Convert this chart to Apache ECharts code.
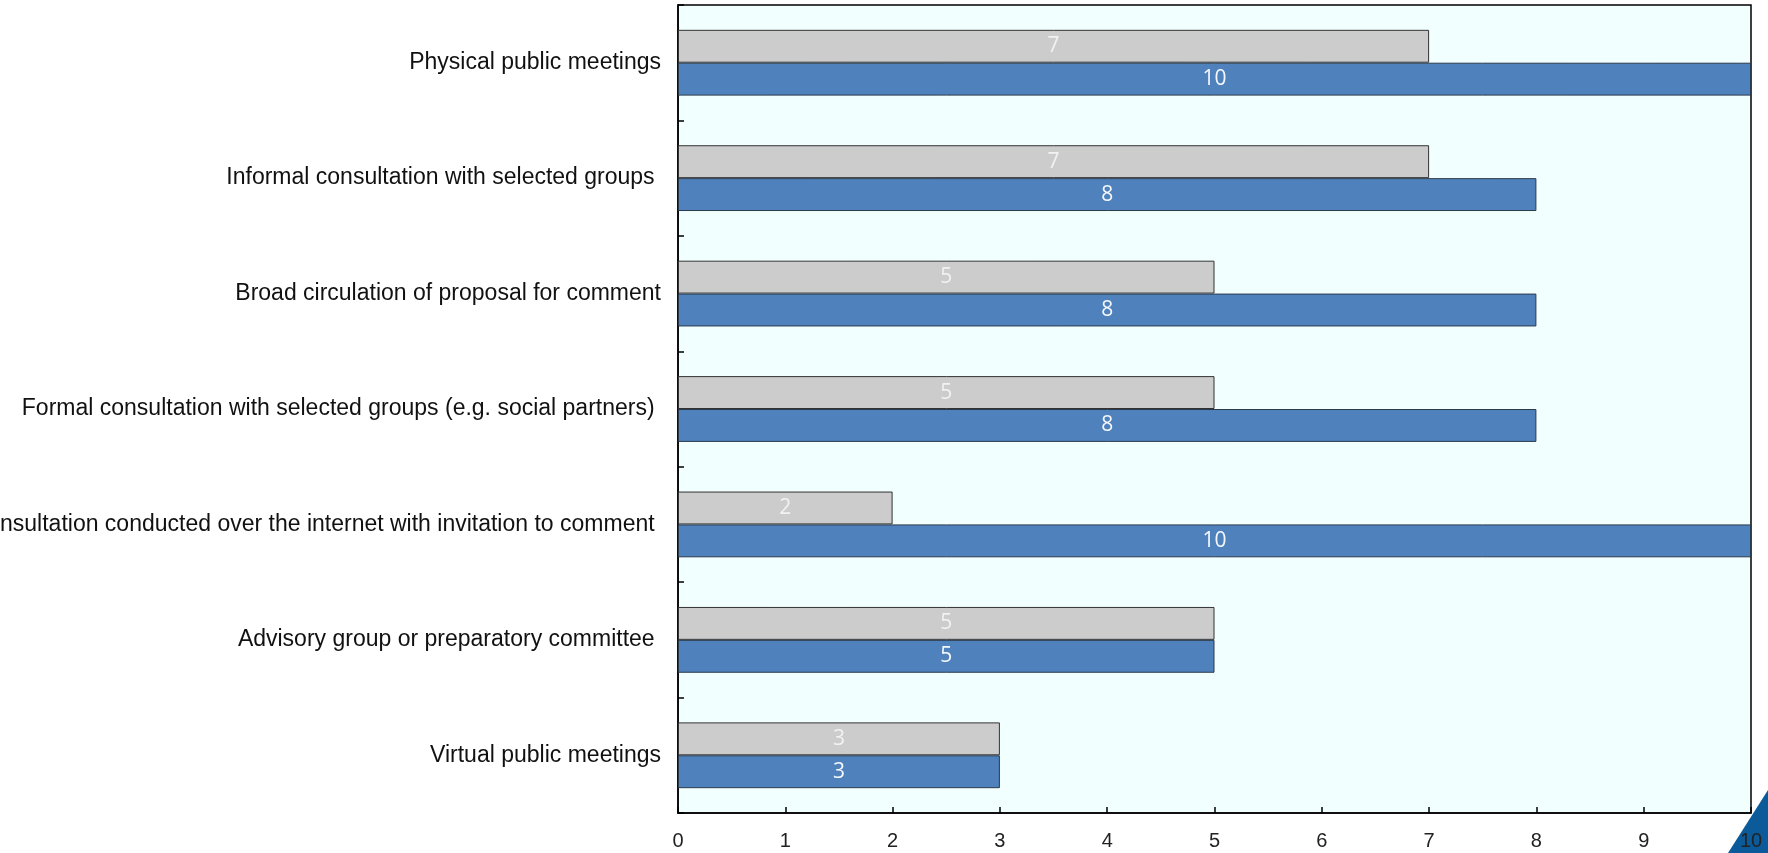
<!DOCTYPE html>
<html><head><meta charset="utf-8">
<script src="https://cdn.jsdelivr.net/npm/echarts@6/dist/echarts.min.js"></script>
<style>html,body{margin:0;padding:0;background:#fff}#c{width:1768px;height:853px}</style>
</head><body><div id="c"></div>
<script>
const categories = [
  "Physical public meetings",
  "Informal consultation with selected groups ",
  "Broad circulation of proposal for comment",
  "Formal consultation with selected groups (e.g. social partners) ",
  "Consultation conducted over the internet with invitation to comment ",
  "Advisory group or preparatory committee ",
  "Virtual public meetings"
];
const grayValues = [7, 7, 5, 5, 2, 5, 3];
const blueValues = [10, 8, 8, 8, 10, 5, 3];
const xTicks = [0,1,2,3,4,5,6,7,8,9,10];

const chart = echarts.init(document.getElementById('c'));
chart.setOption({
  animation: false,
  grid: {left: 678, right: 17, top: 5, bottom: 40, containLabel: false, outerBoundsMode: 'none',
         show: true, backgroundColor: '#f2ffff', borderColor: '#000', borderWidth: 1.5},
  xAxis: {
    type: 'value', min: xTicks[0], max: xTicks[xTicks.length-1], interval: 1,
    axisLine: {show: true, lineStyle: {color: '#000', width: 1.5}},
    axisTick: {show: true, inside: true, length: 6, lineStyle: {color: '#000', width: 1.5}},
    splitLine: {show: false},
    axisLabel: {color: '#222', fontSize: 20, fontFamily: 'Liberation Sans Narrow, Arial Narrow, Liberation Sans, Arial', margin: 18}
  },
  yAxis: {
    type: 'category', data: categories, inverse: true,
    axisLine: {show: true, lineStyle: {color: '#000', width: 1.5}},
    axisTick: {show: true, inside: true, length: 6, lineStyle: {color: '#000', width: 1.5}},
    axisLabel: {color: '#111', fontSize: 23, fontFamily: 'Liberation Sans Narrow, Arial Narrow, Liberation Sans, Arial', margin: 17}
  },
  series: [
    {type: 'bar', data: grayValues, barGap: '0%', barCategoryGap: '43%',
     itemStyle: {color: '#cccccc', borderColor: '#333', borderWidth: 1},
     label: {show: true, position: 'inside', color: '#f2f2f2', fontSize: 21, fontFamily: 'Open Sans, Noto Sans, sans-serif'}},
    {type: 'bar', data: blueValues, barGap: '0%', barCategoryGap: '43%',
     itemStyle: {color: '#4f81bd', borderColor: '#2a3a4a', borderWidth: 1},
     label: {show: true, position: 'inside', color: '#f4f8fc', fontSize: 21, fontFamily: 'Open Sans, Noto Sans, sans-serif'}}
  ],
  graphic: [{type: 'polygon', z: -1, shape: {points: [[1728, 853], [1768, 853], [1768, 790]]}, style: {fill: '#0b5b9a'}}]
});
</script></body></html>
